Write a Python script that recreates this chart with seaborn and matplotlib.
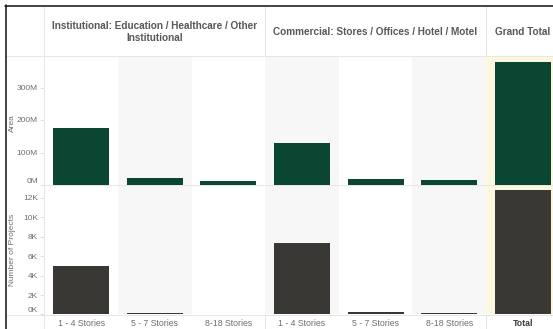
import numpy as np
import pandas as pd
import matplotlib
matplotlib.use("Agg")
import matplotlib.pyplot as plt
import seaborn as sns
from matplotlib.lines import Line2D

# ---- data ----
group_labels = ["Institutional: Education / Healthcare / Other\nInstitutional",
                "Commercial: Stores / Offices / Hotel / Motel",
                "Grand Total"]
keys = ["I1", "I2", "I3", "C1", "C2", "C3", "T"]
story_labels = ["1 - 4 Stories", "5 - 7 Stories", "8-18 Stories",
                "1 - 4 Stories", "5 - 7 Stories", "8-18 Stories", "Total"]
area_m = [175, 22, 11, 129, 19, 16, 377]          # millions
projects = [4950, 150, 50, 7350, 200, 100, 12800]
area_ticks = [0, 100, 200, 300]
area_tick_labels = ["0M", "100M", "200M", "300M"]
proj_ticks = [0, 2000, 4000, 6000, 8000, 10000, 12000]
proj_tick_labels = ["0K", "2K", "4K", "6K", "8K", "10K", "12K"]

df = pd.DataFrame({"key": keys, "area": area_m, "projects": projects})

sns.set_theme(style="white")
plt.rcParams["font.family"] = ["Liberation Sans", "DejaVu Sans"]

W, H = 553, 329
fig = plt.figure(figsize=(W / 100, H / 100), dpi=100)
fig.patch.set_facecolor("white")


def rect(x0, y0, x1, y1):
    return [x0 / W, 1 - y1 / H, (x1 - x0) / W, (y1 - y0) / H]


colw = (486 - 44.3) / 6
xmax = (553 - 44.3) / colw - 0.5

ax1 = fig.add_axes(rect(44.3, 56, 553, 185))
ax2 = fig.add_axes(rect(44.3, 186, 553, 314.4))

tick_col = "#6e6e6e"
for ax in (ax1, ax2):
    for i in (1, 3, 5):
        ax.axvspan(i - 0.5, i + 0.5, color="#f7f7f7", zorder=0, lw=0)
    ax.axvspan(5.5, 7.5, color="#fdf7df", zorder=0, lw=0)

sns.barplot(data=df, x="key", y="area", order=keys, color="#0b4633",
            saturation=1, width=0.76, linewidth=0, ax=ax1, zorder=2)
sns.barplot(data=df, x="key", y="projects", order=keys, color="#3a3834",
            saturation=1, width=0.76, linewidth=0, ax=ax2, zorder=2)

ax1.set_ylim(0, 129 / 0.325)
ax2.set_ylim(0, 128.4 / 9.7 * 1000)

for ax in (ax1, ax2):
    ax.set_xlim(-0.5, xmax)
    ax.set_xlabel("")
    ax.set_ylabel("")
    ax.set_facecolor("white")
    for s in ax.spines.values():
        s.set_visible(False)
    ax.tick_params(axis="y", length=3, width=0.6, color="#d8d8d8",
                   labelcolor=tick_col, labelsize=6.0, pad=1.5, left=True)

ax1.set_yticks(area_ticks)
ax1.set_yticklabels(area_tick_labels)
ax1.set_xticks([])
ax2.set_yticks(proj_ticks)
ax2.set_yticklabels(proj_tick_labels)
for ax in (ax1, ax2):
    ax.get_yticklabels()[0].set_va("bottom")

ax2.set_xticks(range(len(keys)))
ax2.set_xticklabels(story_labels)
ax2.tick_params(axis="x", length=0, labelsize=6.3, labelcolor=tick_col, pad=3.5)
lab = ax2.get_xticklabels()[-1]
lab.set_fontweight("bold")
lab.set_color("#3a3a3a")

# axis titles
fig.text(12.5 / W, 1 - 123 / H, "Area", rotation=90, ha="center", va="center",
         fontsize=6.0, color=tick_col)
fig.text(12.5 / W, 1 - 250 / H, "Number of Projects", rotation=90, ha="center",
         va="center", fontsize=6.0, color=tick_col)

# header texts
hdr_col = "#585858"
fig.text((44.3 + 265) / 2 / W, 1 - 32 / H, group_labels[0], ha="center",
         va="center", fontsize=7.2, fontweight="bold", color=hdr_col,
         linespacing=1.2)
fig.text((265 + 486) / 2 / W, 1 - 32 / H, group_labels[1], ha="center",
         va="center", fontsize=7.2, fontweight="bold", color=hdr_col)
fig.text(522.5 / W, 1 - 32 / H, group_labels[2], ha="center", va="center",
         fontsize=7.2, fontweight="bold", color=hdr_col)


def hline(y, x0, x1, color="#e6e6e6", lw=0.7):
    fig.add_artist(Line2D([x0 / W, x1 / W], [1 - y / H, 1 - y / H],
                          color=color, lw=lw, zorder=5))


def vline(x, y0, y1, color="#e6e6e6", lw=0.7):
    fig.add_artist(Line2D([x / W, x / W], [1 - y0 / H, 1 - y1 / H],
                          color=color, lw=lw, zorder=5))


hline(55.5, 5, 553)
hline(185.3, 44.3, 553)
hline(314.6, 5, 553)
vline(44.3, 5, 329)
vline(265, 5, 55.5)
vline(265, 314.6, 329)
vline(486, 5, 55.5)
vline(486, 314.6, 329)

# outer border
hline(5.5, 5, 553, color="#111111", lw=1.1)
vline(5.5, 5, 329, color="#111111", lw=1.1)

fig.savefig("out.png", dpi=100)
